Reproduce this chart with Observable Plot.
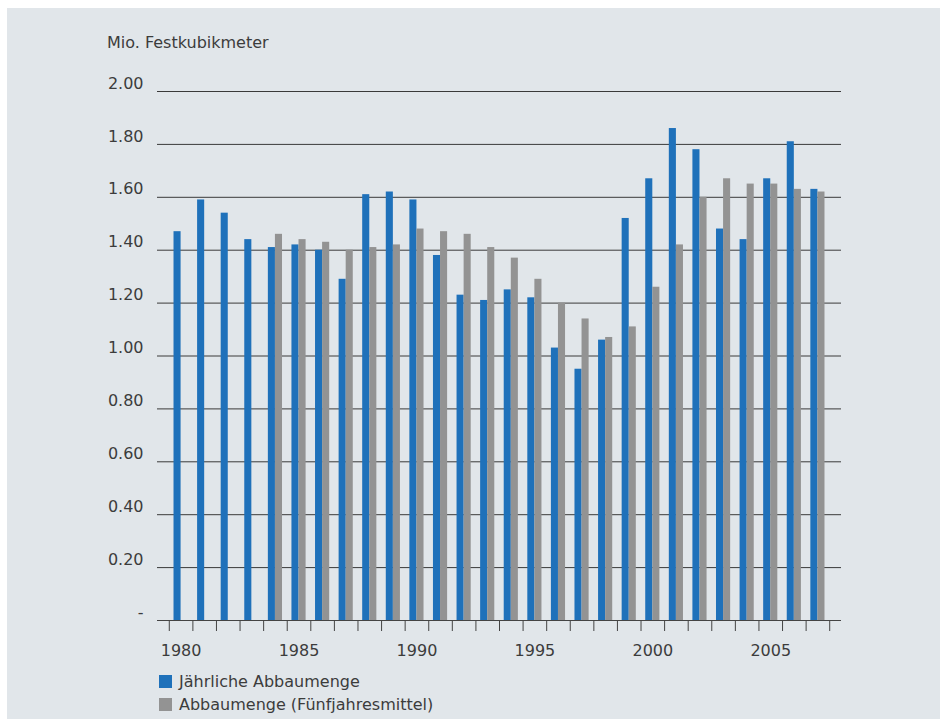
<!DOCTYPE html>
<html><head><meta charset="utf-8">
<script src="https://cdn.jsdelivr.net/npm/d3@7"></script>
<script src="https://cdn.jsdelivr.net/npm/@observablehq/plot@0.6"></script>
<style>
html,body{margin:0;padding:0;background:#ffffff;}
body{width:941px;height:720px;position:relative;overflow:hidden;font-family:"DejaVu Sans",sans-serif;color:#3c3c3c;}
#panel{position:absolute;left:7px;top:8px;width:933px;height:711px;background:#e1e6ea;}
#ylabel{position:absolute;left:107px;top:33px;font-size:16px;line-height:20px;}
#chart{position:absolute;left:0;top:0;}
#legend{position:absolute;left:159px;top:670px;font-size:16px;}
.row{display:flex;align-items:center;height:23px;}
.sw{width:13px;height:13px;margin-right:7px;}
</style></head><body>
<div id="panel"></div>
<div id="ylabel">Mio. Festkubikmeter</div>
<div id="chart"></div>
<div id="legend"></div>
<script>
const years = [1980,1981,1982,1983,1984,1985,1986,1987,1988,1989,1990,1991,1992,1993,1994,1995,1996,1997,1998,1999,2000,2001,2002,2003,2004,2005,2006,2007];
const annual = [1.47,1.59,1.54,1.44,1.41,1.42,1.40,1.29,1.61,1.62,1.59,1.38,1.23,1.21,1.25,1.22,1.03,0.95,1.06,1.52,1.67,1.86,1.78,1.48,1.44,1.67,1.81,1.63];
const fiveYearMean = [null,null,null,null,1.46,1.44,1.43,1.40,1.41,1.42,1.48,1.47,1.46,1.41,1.37,1.29,1.20,1.14,1.07,1.11,1.26,1.42,1.60,1.67,1.65,1.65,1.63,1.62];
const seriesNames = ["Jährliche Abbaumenge","Abbaumenge (Fünfjahresmittel)"];
const seriesColors = ["#1f71ba","#939393"];
const yTicks = [0,0.2,0.4,0.6,0.8,1.0,1.2,1.4,1.6,1.8,2.0];
const xLabelYears = [1980,1985,1990,1995,2000,2005];

const annualData = years.map((y,i)=>({year:y,value:annual[i]}));
const meanData = years.map((y,i)=>({year:y,value:fiveYearMean[i]})).filter(d=>d.value!=null);
const boundaries = years.map(y=>y-0.5).concat([years[years.length-1]+0.5]);
const halfW = 0.3;

const chart = Plot.plot({
  width: 941, height: 665,
  marginLeft: 157, marginRight: 100, marginTop: 91, marginBottom: 45,
  style: {fontFamily: '"DejaVu Sans", sans-serif', fontSize: "16px", color: "#3c3c3c", background: "transparent"},
  x: {type: "linear", domain: [years[0]-1, years[years.length-1]+1], axis: null, label: null},
  y: {domain: [0, 2], axis: null, label: null},
  marks: [
    Plot.ruleY(yTicks.filter(v=>v>0), {stroke: "#3a3a3a", strokeWidth: 1}),
    Plot.rectY(annualData, {x1: d=>d.year-halfW, x2: d=>d.year, y1: 0, y2: "value", fill: seriesColors[0]}),
    Plot.rectY(meanData, {x1: d=>d.year, x2: d=>d.year+halfW, y1: 0, y2: "value", fill: seriesColors[1]}),
    Plot.ruleY([0], {stroke: "#444", strokeWidth: 1.2}),
    Plot.axisX(boundaries, {tickSize: 11, tickFormat: () => "", stroke: "#444", label: null}),
    Plot.axisX(xLabelYears, {tickSize: 0, tickPadding: 24, tickFormat: d => String(d), fontSize: 16, label: null}),
    Plot.axisY(yTicks, {tickSize: 0, tickPadding: 14, textAnchor: "end", dy: -8, fontSize: 16, label: null,
      tickFormat: d => d === 0 ? "-" : d.toFixed(2)})
  ]
});
document.getElementById("chart").appendChild(chart);

const legend = document.getElementById("legend");
seriesNames.forEach((n,i)=>{
  const row = document.createElement("div"); row.className="row";
  const sw = document.createElement("div"); sw.className="sw"; sw.style.background = seriesColors[i];
  const t = document.createElement("span"); t.textContent = n;
  row.appendChild(sw); row.appendChild(t); legend.appendChild(row);
});
</script>
</body></html>
